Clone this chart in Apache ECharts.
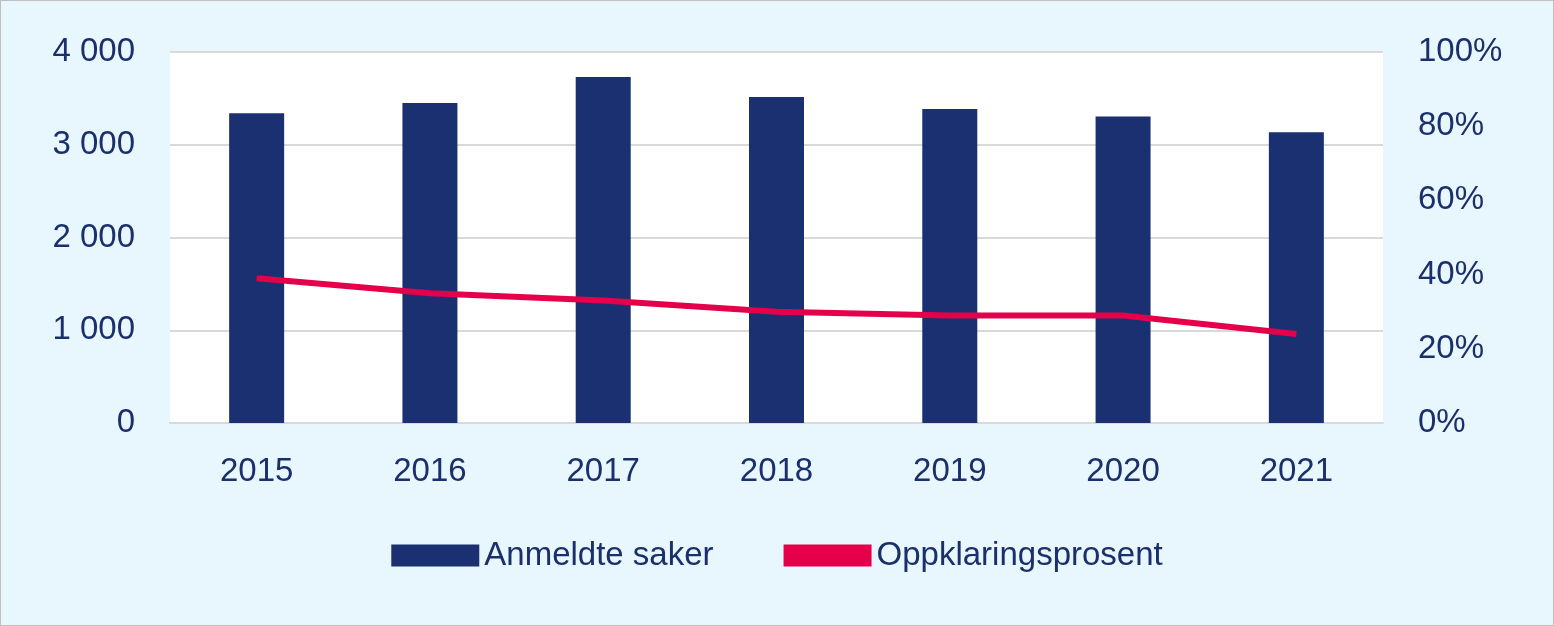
<!DOCTYPE html>
<html>
<head>
<meta charset="utf-8">
<script src="https://cdn.jsdelivr.net/npm/echarts@6/dist/echarts.min.js"></script>
<style>
html,body{margin:0;padding:0;background:#e8f6fd;}
#main{width:1554px;height:626px;box-sizing:border-box;border:1px solid #bfbfbf;}
</style>
</head>
<body>
<div id="main"></div>
<script>
var years = ['2015','2016','2017','2018','2019','2020','2021'];
var saker = [3340, 3450, 3730, 3515, 3385, 3305, 3135];
var prosent = [39, 35, 33, 30, 29, 29, 24];

var chart = echarts.init(document.getElementById('main'));
var txt = '#1a2f6b';
chart.setOption({
  backgroundColor: '#e8f6fd',
  textStyle: {fontFamily: 'Liberation Sans, Arial, sans-serif'},
  grid: {left: 169, right: 170, top: 51, bottom: 202, show: true, backgroundColor: '#ffffff', borderWidth: 0},
  legend: {
    bottom: 48, itemWidth: 88, itemHeight: 22, itemGap: 70,
    textStyle: {color: txt, fontSize: 33},
    data: [{name: 'Anmeldte saker', icon: 'rect'}, {name: 'Oppklaringsprosent', icon: 'rect', itemStyle:{color:'#e4004b'}}]
  },
  xAxis: {
    type: 'category', data: years,
    axisLine: {lineStyle: {color: '#d9d9d9', width: 2}},
    axisTick: {show: false},
    axisLabel: {color: txt, fontSize: 33, margin: 32}
  },
  yAxis: [{
    type: 'value', min: 0, max: 4000, interval: 1000,
    axisLabel: {color: txt, fontSize: 33, margin: 35, formatter: function(v){return v === 0 ? '0' : (v/1000) + ' 000';}},
    splitLine: {lineStyle: {color: '#d9d9d9', width: 2}}
  }, {
    type: 'value', min: 0, max: 100, interval: 20,
    axisLabel: {color: txt, fontSize: 33, margin: 35, formatter: '{value}%'},
    splitLine: {show: false}
  }],
  series: [{
    name: 'Anmeldte saker', type: 'bar', data: saker, barWidth: 55,
    itemStyle: {color: '#1a3070'}
  }, {
    name: 'Oppklaringsprosent', type: 'line', yAxisIndex: 1, data: prosent,
    symbol: 'none', lineStyle: {color: '#e4004b', width: 6}, itemStyle: {color: '#e4004b'},
    label: {show: true, position: 'inside', color: '#ffffff', fontSize: 24, formatter: '{c}%'}
  }]
});
</script>
</body>
</html>
